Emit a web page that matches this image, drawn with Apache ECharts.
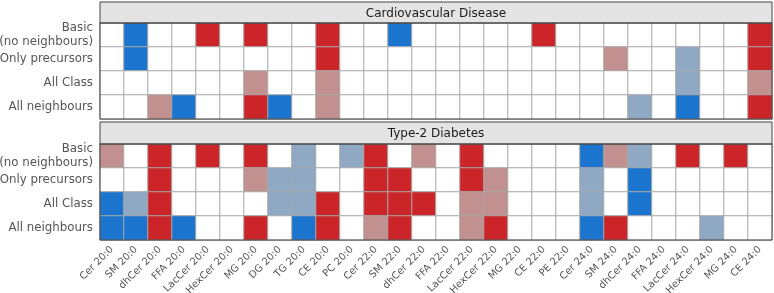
<!DOCTYPE html>
<html><head><meta charset="utf-8">
<script src="https://cdn.jsdelivr.net/npm/echarts@6/dist/echarts.min.js"></script>
<style>html,body{margin:0;padding:0;background:#fff}#c{width:774px;height:293px}</style>
</head><body><div id="c"></div>
<script>
const categories = ['Cer 20:0','SM 20:0','dhCer 20:0','FFA 20:0','LacCer 20:0','HexCer 20:0','MG 20:0','DG 20:0','TG 20:0','CE 20:0','PC 20:0','Cer 22:0','SM 22:0','dhCer 22:0','FFA 22:0','LacCer 22:0','HexCer 22:0','MG 22:0','CE 22:0','PE 22:0','Cer 24:0','SM 24:0','dhCer 24:0','FFA 24:0','LacCer 24:0','HexCer 24:0','MG 24:0','CE 24:0'];
const rows = ['Basic\n(no neighbours)','Only precursors','All Class','All neighbours'];
const panelTitles = ['Cardiovascular Disease','Type-2 Diabetes'];
// values: 2 strong up, 1 weak up, 0 none, -1 weak down, -2 strong down
const cvdBasic      = [0,-2,0,0,2,0,2,0,0,2,0,0,-2,0,0,0,0,0,2,0,0,0,0,0,0,0,0,2];
const cvdPrecursors = [0,-2,0,0,0,0,0,0,0,2,0,0,0,0,0,0,0,0,0,0,0,1,0,0,-1,0,0,2];
const cvdAllClass   = [0,0,0,0,0,0,1,0,0,1,0,0,0,0,0,0,0,0,0,0,0,0,0,0,-1,0,0,1];
const cvdAllNeigh   = [0,0,1,-2,0,0,2,-2,0,1,0,0,0,0,0,0,0,0,0,0,0,0,-1,0,-2,0,0,2];
const t2dBasic      = [1,0,2,0,2,0,2,0,-1,0,-1,2,0,1,0,2,0,0,0,0,-2,1,-1,0,2,0,2,0];
const t2dPrecursors = [0,0,2,0,0,0,1,-1,-1,0,0,2,2,0,0,2,1,0,0,0,-1,0,-2,0,0,0,0,0];
const t2dAllClass   = [-2,-1,2,0,0,0,0,-1,-1,2,0,2,2,2,0,1,1,0,0,0,-1,0,-2,0,0,0,0,0];
const t2dAllNeigh   = [-2,-2,2,-2,0,0,2,0,-2,2,0,1,2,0,0,1,2,0,0,0,-2,2,0,0,0,-1,0,0];

const panels = [[cvdBasic,cvdPrecursors,cvdAllClass,cvdAllNeigh],[t2dBasic,t2dPrecursors,t2dAllClass,t2dAllNeigh]];
function toData(p){const d=[];p.forEach((r,ri)=>r.forEach((v,ci)=>d.push([ci,ri,v])));return d;}

const F='DejaVu Sans';
const L=100, W=672, tops=[23,144], H=96, stripTops=[2,122];
const chart = echarts.init(document.getElementById('c'),null,{renderer:'canvas'});
const graphic=[];
panelTitles.forEach((t,i)=>{
  graphic.push({type:'rect',shape:{x:L,y:stripTops[i],width:W,height:tops[i]-stripTops[i]},style:{fill:'#e4e4e4',stroke:'#444',lineWidth:1},z:100});
  graphic.push({type:'text',x:L+W/2,y:(stripTops[i]+tops[i])/2+1,style:{text:t,font:'12px '+F,fill:'#1a1a1a',align:'center',verticalAlign:'middle'},z:101});
  graphic.push({type:'rect',shape:{x:L,y:tops[i],width:W,height:H},style:{fill:'none',stroke:'#444',lineWidth:1},z:100});
});
chart.setOption({
  animation:false,
  graphic:graphic,
  grid:tops.map(t=>({left:L,top:t,width:W,height:H,containLabel:false,outerBoundsMode:'none'})),
  xAxis:[0,1].map(i=>({type:'category',gridIndex:i,data:categories,axisLine:{show:false},axisTick:{show:false},
    axisLabel:{show:i===1,rotate:45,fontFamily:F,fontSize:10,color:'#555',margin:8,interval:0},splitLine:{show:false}})),
  yAxis:[0,1].map(i=>({type:'category',gridIndex:i,data:rows,inverse:true,axisLine:{show:false},axisTick:{show:false},
    axisLabel:{fontFamily:F,fontSize:11.8,color:'#555',margin:7,lineHeight:13.5,align:'right'},splitLine:{show:false}})),
  visualMap:{show:false,type:'piecewise',seriesIndex:[0,1],dimension:2,
    pieces:[{value:-2,color:'#1b74cd'},{value:-1,color:'#8fa8c4'},{value:0,color:'#ffffff'},{value:1,color:'#c39090'},{value:2,color:'#cc2529'}]},
  series:panels.map((p,i)=>({type:'heatmap',xAxisIndex:i,yAxisIndex:i,data:toData(p),itemStyle:{borderColor:'#a8a8a8',borderWidth:1},emphasis:{disabled:true}}))
});
</script></body></html>
